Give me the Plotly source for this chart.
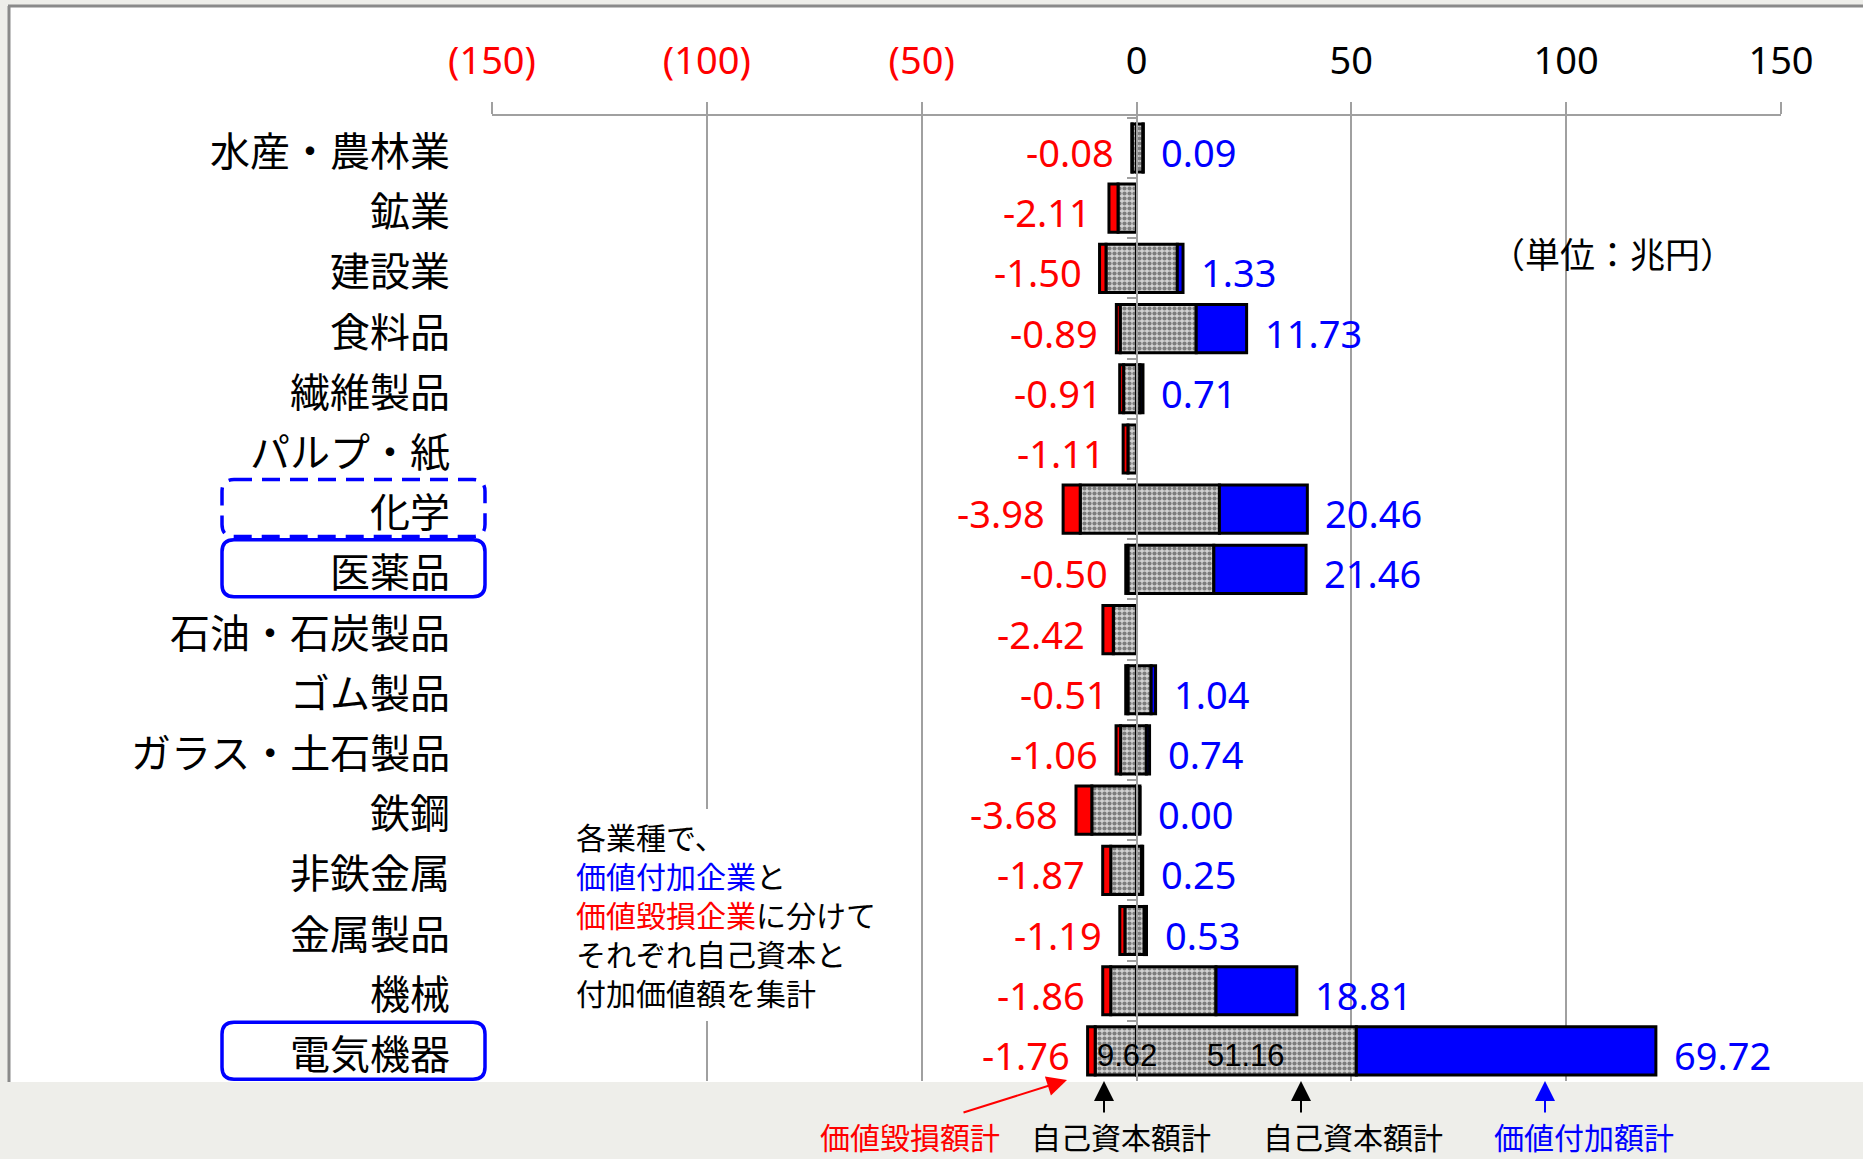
import plotly.graph_objects as go

# ---------------- data (兆円) ----------------
categories = ["水産・農林業", "鉱業", "建設業", "食料品", "繊維製品", "パルプ・紙",
              "化学", "医薬品", "石油・石炭製品", "ゴム製品", "ガラス・土石製品",
              "鉄鋼", "非鉄金属", "金属製品", "機械", "電気機器"]
# 価値毀損額計 (value destroyed by value-destroying firms)
destroyed_value = [-0.08, -2.11, -1.50, -0.89, -0.91, -1.11, -3.98, -0.50,
                   -2.42, -0.51, -1.06, -3.68, -1.87, -1.19, -1.86, -1.76]
# 自己資本額計 of value-destroying firms
destroyer_equity = [1.0, 4.3, 7.1, 3.8, 3.0, 2.0, 13.1, 2.0,
                    5.4, 2.0, 3.7, 10.4, 6.0, 2.7, 6.0, 9.62]
# 自己資本額計 of value-adding firms
adder_equity = [1.5, 0.0, 9.5, 13.9, 0.8, 0.0, 19.3, 18.0,
                0.0, 3.4, 2.3, 0.8, 1.2, 1.8, 18.5, 51.16]
# 価値付加額計 (value added by value-adding firms); None = no label/bar
added_value = [0.09, None, 1.33, 11.73, 0.71, None, 20.46, 21.46,
               None, 1.04, 0.74, 0.00, 0.25, 0.53, 18.81, 69.72]

tick_values = [-150, -100, -50, 0, 50, 100, 150]
tick_labels = ["(150)", "(100)", "(50)", "0", "50", "100", "150"]
highlighted = {"化学": "dash", "医薬品": "solid", "電気機器": "solid"}

# ---------------- style ----------------
W, H = 1863, 1159
L, R, T, B = 492, 82, 116, 78
PW, PH = W - L - R, H - T - B
RED, BLUE, GRID = "#ff0000", "#0000ff", "#a0a0a0"
CJK = "Noto Sans CJK JP"
NUM = "Noto Sans"
BORDER = 3


def fx(p):
    return (p - L) / PW


def fy(p):
    return 1 - (p - T) / PH


def cat_center_px(i):
    return T + (i + 0.5) * PH / len(categories)


gray_marker = dict(
    color="#b8b8b8",
    line=dict(color="black", width=BORDER),
    pattern=dict(shape=".", fgcolor="#7c7c7c", bgcolor="#d2d2d2",
                 size=5, solidity=0.55, fillmode="replace"),
)

fig = go.Figure()
fig.add_trace(go.Bar(y=categories, x=[-v for v in destroyer_equity], orientation="h",
                     marker=gray_marker, hoverinfo="skip"))
fig.add_trace(go.Bar(y=categories, x=destroyed_value, orientation="h",
                     marker=dict(color=RED, line=dict(color="black", width=BORDER)),
                     hoverinfo="skip"))
fig.add_trace(go.Bar(y=categories, x=adder_equity, orientation="h",
                     marker=gray_marker, hoverinfo="skip"))
fig.add_trace(go.Bar(y=categories, x=[v if v is not None else 0 for v in added_value],
                     orientation="h",
                     marker=dict(color=BLUE, line=dict(color="black", width=BORDER)),
                     hoverinfo="skip"))

annotations = []
# category labels
for c in categories:
    annotations.append(dict(xref="paper", yref="y", x=0, y=c, xanchor="right",
                            xshift=-40, yshift=-1, text=c, showarrow=False,
                            font=dict(family=CJK, size=40, color="black")))
# negative (red) data labels
for c, d, e in zip(categories, destroyed_value, destroyer_equity):
    annotations.append(dict(xref="x", yref="y", x=-(e - d if d < 0 else e), y=c,
                            xanchor="right", xshift=-16, yshift=-4,
                            text=f"{d:.2f}", showarrow=False,
                            font=dict(family=NUM, size=38, color=RED)))
# positive (blue) data labels
for c, a, v in zip(categories, adder_equity, added_value):
    if v is None:
        continue
    annotations.append(dict(xref="x", yref="y", x=a + v, y=c,
                            xanchor="left", xshift=16, yshift=-4,
                            text=f"{v:.2f}", showarrow=False,
                            font=dict(family=NUM, size=38, color=BLUE)))
# equity labels inside the last bar
last = categories[-1]
annotations.append(dict(xref="x", yref="y", x=-destroyer_equity[-1], y=last,
                        xanchor="left", xshift=0, yshift=-5,
                        text=f"{destroyer_equity[-1]:.2f}", showarrow=False,
                        font=dict(family="Liberation Sans", size=31, color="black")))
annotations.append(dict(xref="x", yref="y", x=adder_equity[-1] / 2, y=last,
                        xanchor="center", yshift=-5,
                        text=f"{adder_equity[-1]:.2f}", showarrow=False,
                        font=dict(family="Liberation Sans", size=31, color="black")))
# unit
annotations.append(dict(xref="paper", yref="paper", x=fx(1612), y=fy(252),
                        xanchor="center", yanchor="middle", text="（単位：兆円）",
                        showarrow=False, font=dict(family=CJK, size=35, color="black")))
# explanatory note (one annotation per line, on a white panel)
note_lines = ["各業種で、",
              f"<span style='color:{BLUE}'>価値付加企業</span>と",
              f"<span style='color:{RED}'>価値毀損企業</span>に分けて",
              "それぞれ自己資本と",
              "付加価値額を集計"]
note_center, note_step = 914, 39
for k, line in enumerate(note_lines):
    yc = note_center + (k - (len(note_lines) - 1) / 2) * note_step
    annotations.append(dict(xref="paper", yref="paper", x=fx(574), y=fy(yc),
                            xanchor="left", yanchor="middle", align="left", text=line,
                            showarrow=False,
                            font=dict(family=CJK, size=30, color="black")))
# bottom legend labels
for txt, cx, col in [("価値毀損額計", 910, RED), ("自己資本額計", 1121, "black"),
                     ("自己資本額計", 1353, "black"), ("価値付加額計", 1584, BLUE)]:
    annotations.append(dict(xref="paper", yref="paper", x=fx(cx), y=fy(1136),
                            xanchor="center", yanchor="middle", text=txt,
                            showarrow=False, font=dict(family=CJK, size=30, color=col)))
# arrows
for tipx, tipy, tailx, taily, col in [(1067, 1080, 962, 1113, RED),
                                      (1104, 1081, 1104, 1114, "black"),
                                      (1301, 1081, 1301, 1114, "black"),
                                      (1545, 1081, 1545, 1114, BLUE)]:
    annotations.append(dict(xref="paper", yref="paper", x=fx(tipx), y=fy(tipy),
                            ax=tailx - tipx, ay=taily - tipy, text="",
                            showarrow=True, arrowhead=2, arrowsize=2,
                            arrowwidth=2, arrowcolor=col, standoff=0))

shapes = [
    dict(type="rect", xref="paper", yref="paper", x0=fx(9), x1=fx(W + 5),
         y0=fy(1082), y1=fy(6), fillcolor="white", line=dict(width=0), layer="below"),
    dict(type="line", xref="paper", yref="paper", x0=fx(9), x1=fx(9),
         y0=fy(1082), y1=fy(6), line=dict(color="#8a8a8a", width=3), layer="below"),
    dict(type="line", xref="paper", yref="paper", x0=fx(8), x1=fx(W + 5),
         y0=fy(6), y1=fy(6), line=dict(color="#8a8a8a", width=3), layer="below"),
    # white panel behind the note (hides the gridline there)
    dict(type="rect", xref="paper", yref="paper", x0=fx(562), x1=fx(905),
         y0=fy(1021), y1=fy(809), fillcolor="white", line=dict(width=0), layer="above"),
]


def rounded_rect(x0, y0, x1, y1, r):
    pts = [("M", x0 + r, y0), ("L", x1 - r, y0), ("Q", x1, y0, x1, y0 + r),
           ("L", x1, y1 - r), ("Q", x1, y1, x1 - r, y1), ("L", x0 + r, y1),
           ("Q", x0, y1, x0, y1 - r), ("L", x0, y0 + r), ("Q", x0, y0, x0 + r, y0)]
    out = []
    for p in pts:
        cmd, vals = p[0], p[1:]
        coords = []
        for k in range(0, len(vals), 2):
            coords.append(f"{fx(vals[k]):.5f},{fy(vals[k + 1]):.5f}")
        out.append(cmd + " " + " ".join(coords))
    return " ".join(out) + " Z"


for name, dash in highlighted.items():
    i = categories.index(name)
    cy = cat_center_px(i)
    shapes.append(dict(type="path", xref="paper", yref="paper",
                       path=rounded_rect(222, cy - 28.5, 485, cy + 28.5, 12),
                       line=dict(color=BLUE, width=3.5,
                                 dash="18px,10px" if dash == "dash" else "solid")))

fig.update_layout(
    width=W, height=H, margin=dict(l=L, r=R, t=T, b=B, autoexpand=False),
    barmode="relative", bargap=0.2, showlegend=False,
    paper_bgcolor="#eeeeea", plot_bgcolor="white",
    xaxis=dict(range=[-150, 150], side="top", tickvals=tick_values,
               ticktext=[f"<span style='color:{RED}'>{t}</span>" if v < 0 else t
                         for v, t in zip(tick_values, tick_labels)],
               showgrid=True, gridcolor=GRID, gridwidth=2,
               showline=True, linecolor=GRID, linewidth=2,
               ticks="outside", ticklen=12, tickcolor=GRID, tickwidth=2,
               ticklabelstandoff=13, zeroline=False, fixedrange=True,
               tickfont=dict(family=NUM, size=38, color="black")),
    yaxis=dict(type="category", categoryorder="array", categoryarray=categories,
               autorange="reversed", anchor="free", position=0.5,
               showline=True, linecolor=GRID, linewidth=2,
               ticks="outside", tickson="boundaries", ticklen=9,
               tickcolor=GRID, tickwidth=2, showticklabels=False,
               showgrid=False, zeroline=False, fixedrange=True),
    annotations=annotations, shapes=shapes,
)

fig.write_html("out.html")
